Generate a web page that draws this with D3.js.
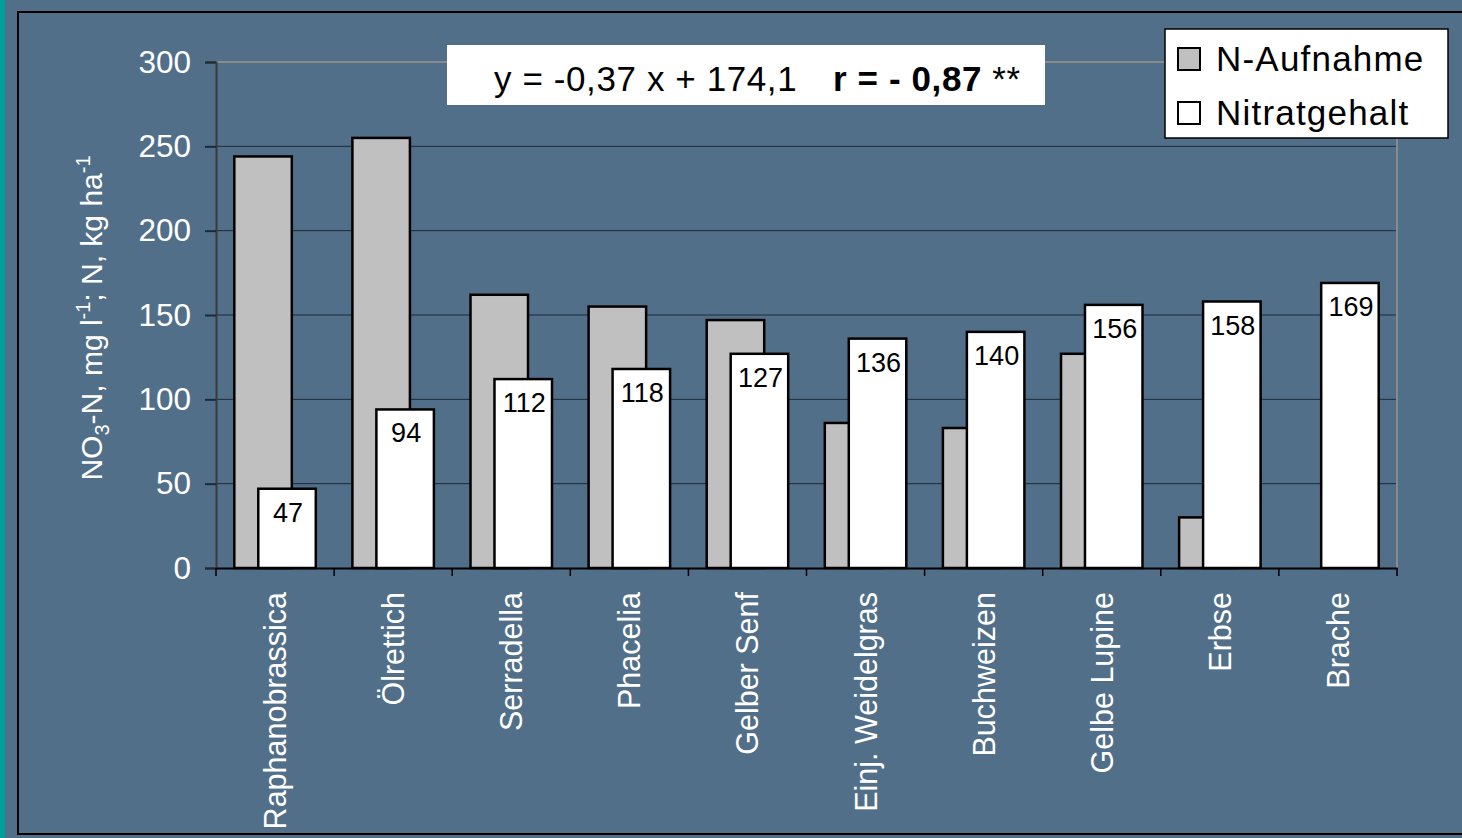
<!DOCTYPE html>
<html>
<head>
<meta charset="utf-8">
<title>N-Aufnahme und Nitratgehalt</title>
<script src="https://cdn.jsdelivr.net/npm/d3@7"></script>
<style>
  body { margin:0; background:#526f89; }
  svg { display:block; }
  text { font-family:"Liberation Sans", Arial, sans-serif; }
</style>
</head>
<body>
<svg id="chart" width="1462" height="838"></svg>
<script>
// Kulturen und Werte
var categories = ["Raphanobrassica","Ölrettich","Serradella","Phacelia","Gelber Senf",
                  "Einj. Weidelgras","Buchweizen","Gelbe Lupine","Erbse","Brache"];
var nAufnahme   = [244, 255, 162, 155, 147, 86, 83, 127, 30, 0];
var nitratgehalt = [47, 94, 112, 118, 127, 136, 140, 156, 158, 169];
var yTicks = [0, 50, 100, 150, 200, 250, 300];
var seriesNames = ["N-Aufnahme", "Nitratgehalt"];

var svg = d3.select("#chart");

// teal strip + frame
svg.append("rect").attr("x",0).attr("y",0).attr("width",5).attr("height",838).attr("fill","#009e98");
svg.append("rect").attr("x",18).attr("y",12).attr("width",1500).attr("height",822)
   .attr("fill","none").attr("stroke","#000").attr("stroke-width",2);

var pLeft = 216, pRight = 1397, pTop = 62, pBottom = 568;

var x = d3.scaleBand().domain(categories).range([pLeft, pRight]);
var y = d3.scaleLinear().domain([0, 300]).range([pBottom, pTop]);
var bw = x.bandwidth();
var groupW = bw * 0.69, barW = bw * 0.487;

// gridlines
svg.append("g").selectAll("line").data(yTicks.filter(function(d){ return d > 0 && d < 300; }))
  .enter().append("line")
  .attr("x1", pLeft).attr("x2", pRight)
  .attr("y1", function(d){ return y(d); }).attr("y2", function(d){ return y(d); })
  .attr("stroke", "#1c2a38").attr("stroke-width", 1);

// plot border (top / right) gray
svg.append("line").attr("x1",pLeft).attr("x2",pRight).attr("y1",y(300)).attr("y2",y(300))
   .attr("stroke","#8a8a8a").attr("stroke-width",2);
svg.append("line").attr("x1",pRight).attr("x2",pRight).attr("y1",y(300)).attr("y2",pBottom)
   .attr("stroke","#8a8a8a").attr("stroke-width",2);

// bars
var g = svg.append("g");
g.selectAll(".grau").data(categories).enter().append("rect")
  .attr("class","grau")
  .attr("x", function(d){ return x(d) + (bw - groupW) / 2; })
  .attr("width", barW)
  .attr("y", function(d,i){ return y(nAufnahme[i]); })
  .attr("height", function(d,i){ return pBottom - y(nAufnahme[i]); })
  .attr("fill", "#c0c0c0").attr("stroke", "#000").attr("stroke-width", 2.5)
  .style("display", function(d,i){ return nAufnahme[i] > 0 ? null : "none"; });

g.selectAll(".weiss").data(categories).enter().append("rect")
  .attr("class","weiss")
  .attr("x", function(d){ return x(d) + (bw + groupW) / 2 - barW; })
  .attr("width", barW)
  .attr("y", function(d,i){ return y(nitratgehalt[i]); })
  .attr("height", function(d,i){ return pBottom - y(nitratgehalt[i]); })
  .attr("fill", "#fff").attr("stroke", "#000").attr("stroke-width", 2.5);

g.selectAll(".lab").data(categories).enter().append("text")
  .attr("class","lab")
  .attr("x", function(d){ return x(d) + (bw + groupW) / 2 - barW / 2 + 1; })
  .attr("y", function(d,i){ return y(nitratgehalt[i]) + 33; })
  .attr("text-anchor","middle").attr("font-size", 27).attr("fill","#000")
  .text(function(d,i){ return nitratgehalt[i]; });

// y axis
var yAxis = svg.append("g").attr("transform","translate(" + pLeft + ",0)")
  .call(d3.axisLeft(y).tickValues(yTicks).tickSize(11).tickPadding(14));
yAxis.select(".domain").attr("stroke","#3a3a3a").attr("stroke-width",2);
yAxis.selectAll(".tick line").attr("stroke","#1c2a38").attr("stroke-width",2);
yAxis.selectAll(".tick text").attr("fill","#fff").attr("font-size",31.5)
  .attr("font-family","'Liberation Sans', Arial, sans-serif");

// x axis
var xAxis = svg.append("g").attr("transform","translate(0," + pBottom + ")")
  .call(d3.axisBottom(x).tickSize(0).tickFormat(""));
xAxis.select(".domain").attr("stroke","#000").attr("stroke-width",2);
var xt = categories.map(function(d){ return x(d); }).concat([pRight]);
xAxis.selectAll(".xt").data(xt).enter().append("line")
  .attr("x1", function(d){ return d; }).attr("x2", function(d){ return d; })
  .attr("y1", 0).attr("y2", 8).attr("stroke","#000").attr("stroke-width",1.5);

svg.append("g").selectAll("text").data(categories).enter().append("text")
  .attr("transform", function(d){ return "translate(" + (x(d) + bw / 2) + ",592) rotate(-90)"; })
  .attr("text-anchor","end").attr("dy","0.36em")
  .attr("font-size",30.5).attr("fill","#fff")
  .text(function(d){ return d; });

// y label
var yl = svg.append("text")
  .attr("transform","translate(102,318) rotate(-90)")
  .attr("text-anchor","middle").attr("font-size",30).attr("fill","#fff");
yl.append("tspan").text("NO");
yl.append("tspan").attr("font-size",20).attr("dy",7).text("3");
yl.append("tspan").attr("dy",-7).text("-N, mg l");
yl.append("tspan").attr("font-size",20).attr("dy",-12).text("-1");
yl.append("tspan").attr("dy",12).text("; N, kg ha");
yl.append("tspan").attr("font-size",20).attr("dy",-12).text("-1");

// equation box
svg.append("rect").attr("x",447).attr("y",45).attr("width",598).attr("height",60).attr("fill","#fff");
var eq = svg.append("text").attr("x",494).attr("y",91).attr("font-size",35).attr("fill","#000")
  .attr("letter-spacing",0.6);
eq.append("tspan").text("y = -0,37 x + 174,1");
eq.append("tspan").attr("x",833).attr("font-weight","bold").text("r = - 0,87");
eq.append("tspan").text(" **");

// legend
var lg = svg.append("g");
lg.append("rect").attr("x",1165).attr("y",29).attr("width",283).attr("height",109)
  .attr("fill","#fff").attr("stroke","#000").attr("stroke-width",1.5);
var swatch = ["#c0c0c0", "#fff"];
lg.selectAll(".sw").data(seriesNames).enter().append("rect")
  .attr("x",1178).attr("y", function(d,i){ return 48 + i * 54; })
  .attr("width",22).attr("height",22)
  .attr("fill", function(d,i){ return swatch[i]; })
  .attr("stroke","#000").attr("stroke-width",2);
lg.selectAll(".lt").data(seriesNames).enter().append("text")
  .attr("x",1216).attr("y", function(d,i){ return 71 + i * 54; })
  .attr("font-size",35).attr("letter-spacing",1.2).attr("fill","#000")
  .text(function(d){ return d; });
</script>
</body>
</html>
